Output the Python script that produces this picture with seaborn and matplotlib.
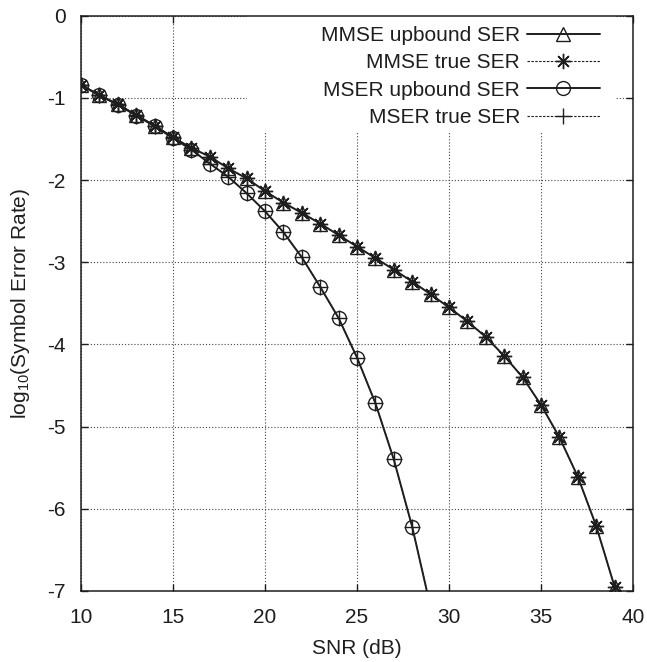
import numpy as np
import pandas as pd
import matplotlib
matplotlib.use("Agg")
import matplotlib.pyplot as plt
from matplotlib.patches import Rectangle
import seaborn as sns

# ---- data ----
snr_mmse = [10, 11, 12, 13, 14, 15, 16, 17, 18, 19, 20, 21, 22, 23, 24, 25, 26, 27, 28, 29,
            30, 31, 32, 33, 34, 35, 36, 37, 38, 39]
mmse_upbound = [-0.843, -0.965, -1.078, -1.208, -1.338, -1.48, -1.61, -1.715, -1.857, -1.98,
                -2.135, -2.275, -2.40, -2.53, -2.67, -2.81, -2.95, -3.09, -3.236, -3.39,
                -3.55, -3.72, -3.91, -4.14, -4.40, -4.736, -5.13, -5.61, -6.21, -6.95]
mmse_true = [-0.843, -0.965, -1.078, -1.208, -1.338, -1.48, -1.61, -1.715, -1.857, -1.98,
             -2.135, -2.275, -2.40, -2.53, -2.67, -2.81, -2.95, -3.09, -3.236, -3.39,
             -3.55, -3.72, -3.91, -4.14, -4.40, -4.736, -5.13, -5.61, -6.21, -6.95]
snr_mser = [10, 11, 12, 13, 14, 15, 16, 17, 18, 19, 20, 21, 22, 23, 24, 25, 26, 27, 28, 29]
mser_upbound = [-0.845, -0.97, -1.085, -1.215, -1.345, -1.49, -1.63, -1.80, -1.96, -2.16,
                -2.38, -2.635, -2.94, -3.30, -3.68, -4.16, -4.715, -5.40, -6.22, -7.2]
mser_true = [-0.845, -0.97, -1.085, -1.215, -1.345, -1.49, -1.63, -1.80, -1.96, -2.16,
             -2.38, -2.635, -2.94, -3.30, -3.68, -4.16, -4.715, -5.40, -6.22, -7.2]

labels = ["MMSE upbound SER", "MMSE true SER", "MSER upbound SER", "MSER true SER"]
x_ticks = [10, 15, 20, 25, 30, 35, 40]
y_ticks = [0, -1, -2, -3, -4, -5, -6, -7]

sns.set_style("ticks")
plt.rcParams["font.family"] = ["Liberation Sans", "DejaVu Sans"]
plt.rcParams["mathtext.default"] = "regular"

fig = plt.figure(figsize=(6.47, 6.62), dpi=100)
ax = fig.add_axes([0.1252, 0.1073, 0.8532, 0.8690])

ink = "#1e1e1e"
fs = 15

series = [
    (snr_mmse, mmse_upbound, labels[0], "-", "^"),
    (snr_mmse, mmse_true, labels[1], (0, (2.2, 1.3)), (8, 2, 0)),
    (snr_mser, mser_upbound, labels[2], "-", "o"),
    (snr_mser, mser_true, labels[3], (0, (2.2, 1.3)), "+"),
]
for xs, ys, lab, ls, mk in series:
    df = pd.DataFrame({"snr": xs, "ser": ys})
    solid = ls == "-"
    sns.lineplot(data=df, x="snr", y="ser", ax=ax, color=ink,
                 linestyle=ls, linewidth=1.4 if solid else 0.8,
                 marker=mk, markersize=10 if mk in ("^", "o") else 11,
                 markerfacecolor="none", markeredgecolor=ink,
                 markeredgewidth=1.0, label=lab, zorder=3, clip_on=True)

ax.set_xlim(10, 40)
ax.set_ylim(-7, 0)
ax.set_xticks(x_ticks)
ax.set_yticks(y_ticks)
ax.set_xticklabels([str(v) for v in x_ticks], fontsize=fs, color=ink)
ax.set_yticklabels([str(v) for v in y_ticks], fontsize=fs, color=ink)
ax.tick_params(direction="in", length=5, width=1.0, color=ink,
               top=True, right=True, pad=12)
ax.tick_params(axis="y", pad=11)
ax.set_axisbelow(True)
ax.grid(True, color="#444444", linestyle=(0, (1, 1.8)), linewidth=0.8)
for s in ax.spines.values():
    s.set_linewidth(1.1)
    s.set_color(ink)

ax.set_xlabel("SNR (dB)", fontsize=fs, color=ink, labelpad=9)
ax.set_ylabel("log$_{10}$(Symbol Error Rate)", fontsize=fs, color=ink, labelpad=11)

# key area blanks the grid (gnuplot style)
ax.add_patch(Rectangle((0.30, 0.80), 0.667, 0.20, transform=ax.transAxes,
                       facecolor="white", edgecolor="none", zorder=1.5))

leg = ax.legend(loc="upper right", bbox_to_anchor=(0.94, 0.982), frameon=False,
                markerfirst=False, handlelength=3.5, handletextpad=0.33,
                labelspacing=0.4, borderpad=0, borderaxespad=0, fontsize=fs)
for t in leg.get_texts():
    t.set_color(ink)

fig.savefig("out.png", dpi=100)
